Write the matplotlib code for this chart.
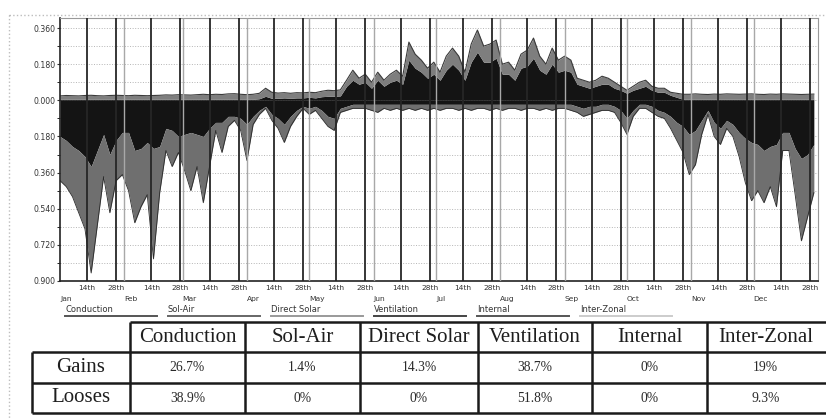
import numpy as np
import matplotlib.pyplot as plt
from matplotlib.ticker import MultipleLocator
from matplotlib.patches import Rectangle

# daily heat flow, sampled every 3 days (day of year)
days = np.arange(0, 364, 3)

neg_total = [-0.40, -0.43, -0.48, -0.56, -0.64, -0.86, -0.62, -0.38, -0.56, -0.40,
             -0.37, -0.45, -0.61, -0.53, -0.47, -0.79, -0.46, -0.25, -0.33, -0.26,
             -0.35, -0.45, -0.33, -0.51, -0.33, -0.15, -0.26, -0.13, -0.10, -0.15,
             -0.30, -0.12, -0.07, -0.04, -0.10, -0.14, -0.21, -0.13, -0.08, -0.04,
             -0.07, -0.05, -0.09, -0.13, -0.15, -0.06, -0.05, -0.04, -0.04, -0.04,
             -0.05, -0.06, -0.04, -0.05, -0.04, -0.05, -0.04, -0.05, -0.04, -0.05,
             -0.04, -0.05, -0.04, -0.04, -0.05, -0.04, -0.05, -0.04, -0.04, -0.05,
             -0.04, -0.05, -0.04, -0.04, -0.05, -0.04, -0.04, -0.05, -0.04, -0.05,
             -0.04, -0.04, -0.05, -0.06, -0.08, -0.07, -0.06, -0.05, -0.05, -0.06,
             -0.11, -0.17, -0.08, -0.04, -0.04, -0.06, -0.08, -0.09, -0.14, -0.20,
             -0.26, -0.37, -0.32, -0.17, -0.07, -0.18, -0.22, -0.14, -0.18, -0.28,
             -0.41, -0.50, -0.45, -0.51, -0.43, -0.53, -0.25, -0.25, -0.47, -0.70,
             -0.58, -0.46]

neg_black = [-0.18, -0.20, -0.23, -0.25, -0.28, -0.33, -0.25, -0.17, -0.27, -0.20,
             -0.16, -0.16, -0.25, -0.24, -0.21, -0.24, -0.23, -0.14, -0.15, -0.18,
             -0.17, -0.16, -0.17, -0.18, -0.14, -0.11, -0.11, -0.08, -0.08, -0.09,
             -0.12, -0.08, -0.05, -0.03, -0.07, -0.09, -0.12, -0.08, -0.05, -0.03,
             -0.04, -0.03, -0.05, -0.08, -0.09, -0.04, -0.03, -0.02, -0.02, -0.02,
             -0.02, -0.02, -0.02, -0.02, -0.02, -0.02, -0.02, -0.02, -0.02, -0.02,
             -0.02, -0.02, -0.02, -0.02, -0.02, -0.02, -0.02, -0.02, -0.02, -0.02,
             -0.02, -0.02, -0.02, -0.02, -0.02, -0.02, -0.02, -0.02, -0.02, -0.02,
             -0.02, -0.02, -0.02, -0.03, -0.04, -0.03, -0.03, -0.02, -0.02, -0.03,
             -0.05, -0.09, -0.05, -0.02, -0.02, -0.03, -0.05, -0.06, -0.08, -0.11,
             -0.13, -0.17, -0.15, -0.10, -0.05, -0.11, -0.14, -0.10, -0.12, -0.16,
             -0.19, -0.21, -0.22, -0.25, -0.23, -0.22, -0.16, -0.16, -0.24, -0.29,
             -0.27, -0.22]

pos_total = [0.022, 0.024, 0.023, 0.022, 0.024, 0.025, 0.023, 0.022, 0.024, 0.025,
             0.024, 0.023, 0.025, 0.024, 0.023, 0.024, 0.025, 0.027, 0.026, 0.028,
             0.027, 0.026, 0.028, 0.030, 0.028, 0.030, 0.029, 0.032, 0.033, 0.030,
             0.028, 0.030, 0.035, 0.060, 0.040, 0.036, 0.038, 0.035, 0.038, 0.037,
             0.040, 0.038, 0.045, 0.050, 0.048, 0.052, 0.10, 0.15, 0.11, 0.13,
             0.09, 0.14, 0.10, 0.13, 0.15, 0.12, 0.29, 0.23, 0.20, 0.16,
             0.19, 0.14, 0.22, 0.26, 0.22, 0.14, 0.28, 0.35, 0.27, 0.28,
             0.30, 0.18, 0.19, 0.15, 0.23, 0.25, 0.31, 0.22, 0.18, 0.26,
             0.20, 0.22, 0.20, 0.11, 0.10, 0.09, 0.10, 0.12, 0.11, 0.09,
             0.07, 0.05, 0.07, 0.09, 0.10, 0.07, 0.06, 0.06, 0.04, 0.035,
             0.030, 0.030, 0.032, 0.030, 0.029, 0.031, 0.030, 0.032, 0.031, 0.030,
             0.031, 0.032, 0.030, 0.029, 0.031, 0.030, 0.032, 0.031, 0.030, 0.029,
             0.030, 0.031]

pos_black = [0.005, 0.005, 0.005, 0.005, 0.005, 0.005, 0.005, 0.005, 0.005, 0.005,
             0.005, 0.005, 0.005, 0.005, 0.005, 0.005, 0.005, 0.005, 0.005, 0.005,
             0.005, 0.005, 0.005, 0.005, 0.005, 0.005, 0.005, 0.005, 0.005, 0.005,
             0.005, 0.005, 0.008, 0.020, 0.010, 0.010, 0.012, 0.010, 0.012, 0.012,
             0.015, 0.012, 0.018, 0.020, 0.020, 0.022, 0.07, 0.10, 0.08, 0.09,
             0.06, 0.10, 0.07, 0.09, 0.10, 0.08, 0.20, 0.16, 0.14, 0.11,
             0.13, 0.10, 0.15, 0.18, 0.15, 0.10, 0.19, 0.24, 0.19, 0.19,
             0.21, 0.13, 0.13, 0.10, 0.16, 0.17, 0.21, 0.15, 0.13, 0.18,
             0.14, 0.15, 0.14, 0.08, 0.07, 0.06, 0.07, 0.08, 0.08, 0.06,
             0.05, 0.035, 0.05, 0.06, 0.07, 0.05, 0.04, 0.04, 0.025, 0.015,
             0.005, 0.005, 0.005, 0.005, 0.005, 0.005, 0.005, 0.005, 0.005, 0.005,
             0.005, 0.005, 0.005, 0.005, 0.005, 0.005, 0.005, 0.005, 0.005, 0.005,
             0.005, 0.005]

month_names = ['Jan', 'Feb', 'Mar', 'Apr', 'May', 'Jun',
               'Jul', 'Aug', 'Sep', 'Oct', 'Nov', 'Dec']
month_start = [0, 31, 59, 90, 120, 151, 181, 212, 243, 273, 304, 334]
y_ticks = [0.36, 0.18, 0.0, -0.18, -0.36, -0.54, -0.72, -0.90]
y_labels = ['0.360', '0.180', '0.000', '0.180', '0.360', '0.540', '0.720', '0.900']

legend_names = ['Conduction', 'Sol-Air', 'Direct Solar', 'Ventilation', 'Internal', 'Inter-Zonal']
legend_colors = ['#555555', '#666666', '#999999', '#444444', '#555555', '#cccccc']

row_names = ['Gains', 'Looses']
gains = ['26.7%', '1.4%', '14.3%', '38.7%', '0%', '19%']
looses = ['38.9%', '0%', '0%', '51.8%', '0%', '9.3%']

W, H = 826, 420
fig = plt.figure(figsize=(W / 100, H / 100), dpi=100)

ax = fig.add_axes([60 / W, 1 - 281 / H, 758 / W, 263 / H])
ax.set_xlim(0, 365)
ax.set_ylim(-0.9, 0.41)

ax.fill_between(days, 0, neg_black, color='#141414', lw=0, zorder=2)
ax.fill_between(days, neg_black, neg_total, color='#6f6f6f', lw=0, zorder=2)
ax.fill_between(days, 0, pos_black, color='#141414', lw=0, zorder=2)
ax.fill_between(days, pos_black, pos_total, color='#7e7e7e', lw=0, zorder=2)
ax.plot(days, pos_total, color='#3a3a3a', lw=0.8, zorder=2)
ax.plot(days, neg_total, color='#2a2a2a', lw=0.6, zorder=2)

# grid
ax.yaxis.set_minor_locator(MultipleLocator(0.09))
ax.grid(which='both', axis='y', ls=':', color='#b5b5b5', lw=0.7, zorder=1)
ax.vlines(month_start[1:], 0, 1, transform=ax.get_xaxis_transform(),
          color='#a8a8a8', lw=1.0, zorder=3)
fortnights = [m + 13 for m in month_start] + [m + 27 for m in month_start]
ax.vlines(fortnights, 0, 1, transform=ax.get_xaxis_transform(),
          color='#262626', lw=1.3, zorder=3)

# ticks
ax.set_yticks(y_ticks)
ax.set_yticklabels(y_labels)
ax.tick_params(axis='y', labelsize=5.6, length=2, pad=1, colors='#333333')

tick_days = sorted(fortnights)
ax.set_xticks(tick_days)
ax.set_xticklabels(['14th' if (d - 13) in month_start else '28th' for d in tick_days])
ax.set_xticks(month_start, minor=True)
ax.set_xticklabels(month_names, minor=True, ha='left')
ax.tick_params(axis='x', which='major', labelsize=5.4, length=0, pad=3, colors='#333333')
ax.tick_params(axis='x', which='minor', labelsize=5.4, length=0, pad=11, colors='#333333')

for s in ['top', 'right']:
    ax.spines[s].set_color('#999999')
for s in ['left', 'bottom']:
    ax.spines[s].set_color('#222222')
    ax.spines[s].set_linewidth(1.2)

# overlay in pixel coordinates for legend, frame and table
ov = fig.add_axes([0, 0, 1, 1])
ov.set_xlim(0, W)
ov.set_ylim(H, 0)
ov.axis('off')

ov.add_patch(Rectangle((9, 15), W, H, fill=False, ec='#bdbdbd', lw=1.0, ls=':'))

for i, name in enumerate(legend_names):
    x0 = 65 + i * 103
    ov.text(x0, 313.5, name, fontsize=6.0, color='#333333', va='bottom')
    ov.plot([x0, x0 + 92], [315.5, 315.5], color=legend_colors[i], lw=1.4)

# summary table
col_x = [32, 130, 245, 360, 478, 592, 707, 830]
row_y = [322, 352, 383, 413]
lc = '#1a1a1a'
ov.hlines(row_y[0], col_x[1], col_x[-1], color=lc, lw=1.8)
ov.hlines(row_y[1:], col_x[0], col_x[-1], color=lc, lw=1.8)
ov.vlines(col_x[0], row_y[1], row_y[-1], color=lc, lw=1.8)
ov.vlines(col_x[1:], row_y[0], row_y[-1], color=lc, lw=1.8)

serif = 'Liberation Serif'
for j, name in enumerate(legend_names):
    xc = (col_x[j + 1] + min(col_x[j + 2], 824)) / 2
    ov.text(xc, (row_y[0] + row_y[1]) / 2, name, fontsize=15, family=serif,
            color='#1e1e1e', ha='center', va='center')
    ov.text(xc, (row_y[1] + row_y[2]) / 2, gains[j], fontsize=9.8, family=serif,
            color='#2a2a2a', ha='center', va='center')
    ov.text(xc, (row_y[2] + row_y[3]) / 2, looses[j], fontsize=9.8, family=serif,
            color='#2a2a2a', ha='center', va='center')
for i, name in enumerate(row_names):
    ov.text((col_x[0] + col_x[1]) / 2, (row_y[i + 1] + row_y[i + 2]) / 2, name,
            fontsize=15, family=serif, color='#1e1e1e', ha='center', va='center')

fig.savefig('out.png', dpi=100)
